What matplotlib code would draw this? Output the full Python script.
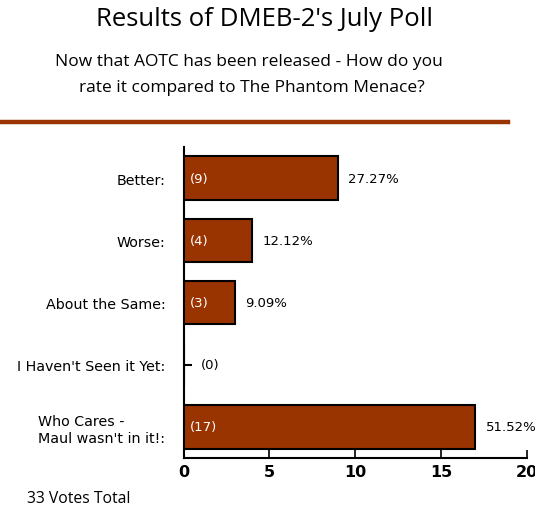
import matplotlib
matplotlib.use("Agg")
import matplotlib.pyplot as plt
from matplotlib.lines import Line2D

# poll answers and vote counts
answers = ["Better:", "Worse:", "About the Same:", "I Haven't Seen it Yet:",
           "Who Cares -\nMaul wasn't in it!:"]
votes = [9, 4, 3, 0, 17]
percents = ["27.27%", "12.12%", "9.09%", "", "51.52%"]
total = 33

brown = "#993300"

fig = plt.figure(figsize=(5.35, 5.10), dpi=100)
ax = fig.add_axes([0.343, 0.1, 0.6415, 0.6098])

y = range(len(answers))
ax.barh(y, votes, height=0.7, color=brown, edgecolor="black", linewidth=1.5, zorder=3)

for i, (v, p) in enumerate(zip(votes, percents)):
    if v > 0:
        ax.text(0.35, i, "(%d)" % v, color="white", va="center", ha="left",
                fontsize=9.5, zorder=4)
        ax.text(v + 0.6, i, p, color="black", va="center", ha="left", fontsize=9.5)
    else:
        ax.text(1.0, i, "(%d)" % v, color="black", va="center", ha="left", fontsize=9.5)

ax.set_xlim(0, 20)
ax.set_ylim(4.5, -0.5)
ax.set_xticks([0, 5, 10, 15, 20])
ax.set_yticks(list(y))
ax.set_yticklabels(answers, fontsize=10.3, multialignment="left")
for lab in ax.get_xticklabels():
    lab.set_fontweight("heavy")
    lab.set_fontsize(11.5)

for s in ["top", "right"]:
    ax.spines[s].set_visible(False)
for s in ["left", "bottom"]:
    ax.spines[s].set_linewidth(1.5)
ax.tick_params(axis="x", direction="in", length=6, width=1.2, pad=4)
ax.tick_params(axis="y", direction="in", length=6, width=1.5, pad=13)

fig.text(0.495, 0.962, "Results of DMEB-2's July Poll", ha="center", va="center",
         fontsize=18.5, family="Open Sans")
fig.text(0.465, 0.878, "Now that AOTC has been released - How do you", ha="center",
         va="center", fontsize=12.5, family="Open Sans")
fig.text(0.47, 0.827, "rate it compared to The Phantom Menace?", ha="center",
         va="center", fontsize=12.5, family="Open Sans")
fig.add_artist(Line2D([0, 0.95], [0.758, 0.758], color=brown, linewidth=3.2,
                      transform=fig.transFigure))
fig.text(0.05, 0.022, "%d Votes Total" % total, ha="left", va="center",
         fontsize=11.3, family="Open Sans")

fig.savefig("out.png", dpi=100)
